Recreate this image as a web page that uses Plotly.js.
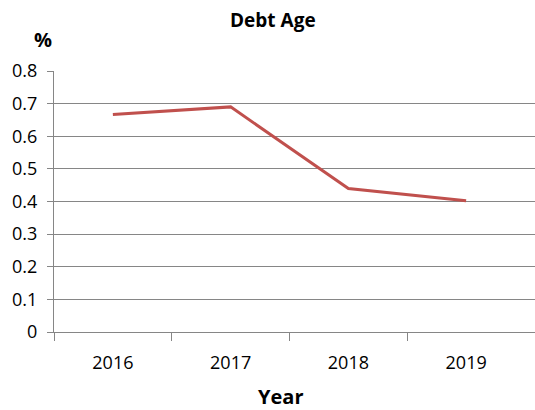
<!DOCTYPE html>
<html>
<head>
<meta charset="utf-8">
<script src="https://cdn.plot.ly/plotly-3.0.1.min.js"></script>
<style>html,body{margin:0;padding:0;background:#fff;}#chart{width:535px;height:410px;}</style>
</head>
<body>
<div id="chart"></div>
<script>
var years = ["2016", "2017", "2018", "2019"];
var debtAge = [0.667, 0.690, 0.440, 0.402];
var yTicks = [0, 0.1, 0.2, 0.3, 0.4, 0.5, 0.6, 0.7, 0.8];
var yTickText = ["0", "0.1", "0.2", "0.3", "0.4", "0.5", "0.6", "0.7", "0.8"];

var xIdx = years.map(function (_, i) { return i; });
var boundaries = years.map(function (_, i) { return i - 0.5; });

var font = "'Open Sans', 'Liberation Sans', sans-serif";

var trace = {
  x: xIdx,
  y: debtAge,
  type: "scatter",
  mode: "lines",
  line: { color: "#C0504D", width: 3 },
  hoverinfo: "skip"
};

var layout = {
  width: 535,
  height: 410,
  margin: { l: 54, r: 0, t: 71, b: 78 },
  paper_bgcolor: "#ffffff",
  plot_bgcolor: "#ffffff",
  showlegend: false,
  font: { family: font, color: "#000", size: 18 },
  title: {
    text: "<b>Debt Age</b>",
    font: { family: font, size: 19, color: "#000" },
    xref: "container", yref: "container",
    x: 0.51, y: 0.951, xanchor: "center", yanchor: "middle"
  },
  xaxis: {
    range: [-0.5, 3.585],
    tickmode: "array",
    tickvals: xIdx,
    ticktext: years,
    ticks: "",
    ticklabelstandoff: 14,
    showgrid: false,
    zeroline: false,
    showline: true,
    linecolor: "#868686",
    linewidth: 1,
    tickfont: { family: font, size: 18, color: "#000" },
    minor: {
      tickmode: "array",
      tickvals: boundaries,
      ticks: "outside",
      ticklen: 8,
      tickcolor: "#868686",
      tickwidth: 1,
      showgrid: false
    },
    fixedrange: true
  },
  yaxis: {
    range: [0, 0.8],
    tickmode: "array",
    tickvals: yTicks,
    ticktext: yTickText,
    ticks: "outside",
    ticklen: 6,
    ticklabelstandoff: 6,
    tickcolor: "#868686",
    showgrid: true,
    gridcolor: "#868686",
    gridwidth: 1,
    zeroline: false,
    showline: true,
    linecolor: "#868686",
    tickfont: { family: font, size: 18, color: "#000" },
    fixedrange: true
  },
  annotations: [
    {
      text: "<b>%</b>", xref: "paper", yref: "paper",
      x: (43 - 54) / 481, y: 1 + (71 - 40) / 261,
      xanchor: "center", yanchor: "middle", showarrow: false,
      font: { family: font, size: 20, color: "#000" }
    },
    {
      text: "<b>Year</b>", xref: "paper", yref: "paper",
      x: (280 - 54) / 481, y: -(397 - 332) / 261,
      xanchor: "center", yanchor: "middle", showarrow: false,
      font: { family: font, size: 20, color: "#000" }
    }
  ]
};

Plotly.newPlot("chart", [trace], layout, { displayModeBar: false, staticPlot: true });
</script>
</body>
</html>
